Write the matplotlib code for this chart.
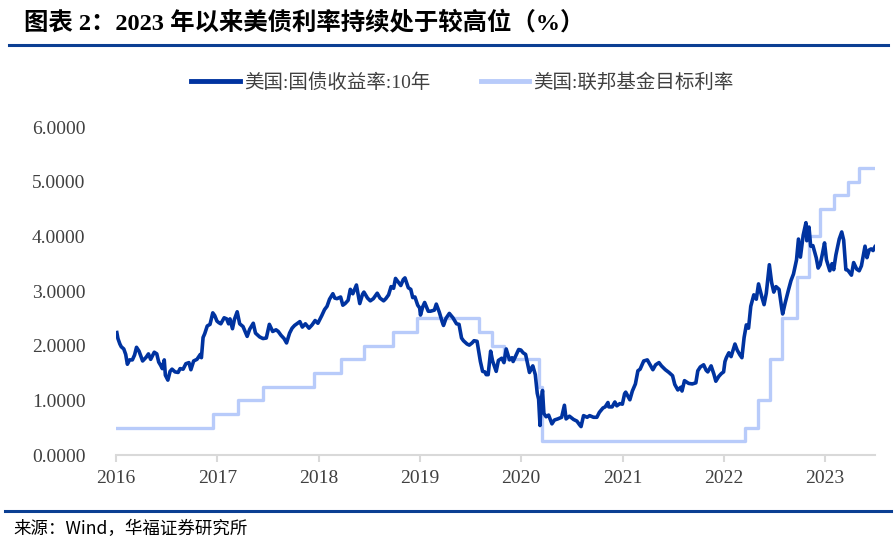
import matplotlib
matplotlib.use("Agg")
from matplotlib import pyplot as plt
import pandas as pd

# 美国:国债收益率:10年 (roughly 3 points per month)
yield_dates = [
    "2016-01-04", "2016-01-08", "2016-01-15", "2016-01-20", "2016-01-29", "2016-02-05", "2016-02-11", "2016-02-19",
    "2016-02-29", "2016-03-08", "2016-03-15", "2016-03-24", "2016-04-06", "2016-04-19", "2016-04-27", "2016-05-05",
    "2016-05-18", "2016-05-27", "2016-06-03", "2016-06-10", "2016-06-16", "2016-06-23", "2016-06-27", "2016-07-06",
    "2016-07-14", "2016-07-21", "2016-08-01", "2016-08-12", "2016-08-19", "2016-08-30", "2016-09-09", "2016-09-20",
    "2016-09-27", "2016-10-07", "2016-10-19", "2016-10-31", "2016-11-04", "2016-11-10", "2016-11-16", "2016-11-25",
    "2016-12-05", "2016-12-15", "2016-12-22", "2016-12-30",
    "2017-01-06", "2017-01-13", "2017-01-25", "2017-02-03", "2017-02-10", "2017-02-15", "2017-02-24", "2017-03-03",
    "2017-03-13", "2017-03-22", "2017-04-03", "2017-04-18", "2017-04-27", "2017-05-10", "2017-05-18", "2017-06-02",
    "2017-06-14", "2017-06-26", "2017-07-07", "2017-07-19", "2017-07-31", "2017-08-08", "2017-08-18", "2017-08-29",
    "2017-09-07", "2017-09-18", "2017-09-27", "2017-10-06", "2017-10-25", "2017-11-03", "2017-11-14", "2017-11-27",
    "2017-12-08", "2017-12-19", "2017-12-29",
    "2018-01-05", "2018-01-12", "2018-01-22", "2018-01-31", "2018-02-09", "2018-02-21", "2018-02-28", "2018-03-08",
    "2018-03-21", "2018-03-29", "2018-04-06", "2018-04-17", "2018-04-25", "2018-05-04", "2018-05-17", "2018-05-29",
    "2018-06-08", "2018-06-13", "2018-06-26", "2018-07-06", "2018-07-17", "2018-07-31", "2018-08-10", "2018-08-23",
    "2018-08-31", "2018-09-10", "2018-09-19", "2018-09-28", "2018-10-05", "2018-10-15", "2018-10-24", "2018-11-02",
    "2018-11-08", "2018-11-20", "2018-11-29", "2018-12-06", "2018-12-14", "2018-12-24", "2018-12-31",
    "2019-01-03", "2019-01-11", "2019-01-18", "2019-01-31", "2019-02-08", "2019-02-22", "2019-03-01", "2019-03-12",
    "2019-03-22", "2019-03-27", "2019-04-05", "2019-04-17", "2019-04-30", "2019-05-13", "2019-05-22", "2019-05-31",
    "2019-06-07", "2019-06-20", "2019-06-28", "2019-07-08", "2019-07-15", "2019-07-26", "2019-08-01", "2019-08-07",
    "2019-08-15", "2019-08-23", "2019-08-28", "2019-09-04", "2019-09-13", "2019-09-20", "2019-10-03", "2019-10-11",
    "2019-10-23", "2019-10-31", "2019-11-08", "2019-11-20", "2019-11-29", "2019-12-03", "2019-12-13", "2019-12-23",
    "2019-12-31",
    "2020-01-08", "2020-01-17", "2020-01-31", "2020-02-07", "2020-02-12", "2020-02-21", "2020-02-28", "2020-03-04",
    "2020-03-09", "2020-03-13", "2020-03-18", "2020-03-23", "2020-03-31", "2020-04-09", "2020-04-21", "2020-04-30",
    "2020-05-12", "2020-05-26", "2020-06-05", "2020-06-11", "2020-06-23", "2020-07-08", "2020-07-20", "2020-07-30",
    "2020-08-04", "2020-08-13", "2020-08-26", "2020-09-04", "2020-09-18", "2020-09-30", "2020-10-09", "2020-10-22",
    "2020-10-30", "2020-11-09", "2020-11-12", "2020-11-24", "2020-12-04", "2020-12-11", "2020-12-22", "2020-12-31",
    "2021-01-08", "2021-01-12", "2021-01-27", "2021-02-05", "2021-02-16", "2021-02-25", "2021-03-05", "2021-03-18",
    "2021-03-31", "2021-04-09", "2021-04-20", "2021-04-30", "2021-05-12", "2021-05-21", "2021-06-04", "2021-06-17",
    "2021-06-30", "2021-07-08", "2021-07-19", "2021-07-30", "2021-08-03", "2021-08-12", "2021-08-27", "2021-09-09",
    "2021-09-22", "2021-09-29", "2021-10-08", "2021-10-20", "2021-10-29", "2021-11-04", "2021-11-16", "2021-11-26",
    "2021-12-03", "2021-12-14", "2021-12-23", "2021-12-31",
    "2022-01-05", "2022-01-10", "2022-01-19", "2022-01-27", "2022-02-04", "2022-02-10", "2022-02-18", "2022-02-28",
    "2022-03-07", "2022-03-15", "2022-03-23", "2022-03-31", "2022-04-08", "2022-04-19", "2022-04-28", "2022-05-06",
    "2022-05-18", "2022-05-26", "2022-06-03", "2022-06-14", "2022-06-22", "2022-06-30", "2022-07-08", "2022-07-19",
    "2022-07-29", "2022-08-01", "2022-08-10", "2022-08-22", "2022-08-31", "2022-09-09", "2022-09-20", "2022-09-27",
    "2022-10-04", "2022-10-14", "2022-10-24", "2022-10-27", "2022-11-04", "2022-11-10", "2022-11-18", "2022-11-30",
    "2022-12-07", "2022-12-14", "2022-12-22", "2022-12-30",
    "2023-01-06", "2023-01-18", "2023-01-26", "2023-02-01", "2023-02-09", "2023-02-21", "2023-03-02", "2023-03-09",
    "2023-03-17", "2023-03-24", "2023-04-06", "2023-04-14", "2023-04-25", "2023-05-04", "2023-05-12", "2023-05-25",
    "2023-06-01", "2023-06-09", "2023-06-16", "2023-06-23", "2023-06-30",
]
yield_values = [
    2.24, 2.13, 2.03, 1.98, 1.94, 1.84, 1.66, 1.74,
    1.74, 1.83, 1.97, 1.90, 1.72, 1.79, 1.85, 1.75,
    1.88, 1.85, 1.70, 1.64, 1.58, 1.74, 1.46, 1.37,
    1.53, 1.57, 1.52, 1.51, 1.58, 1.57, 1.67, 1.69,
    1.56, 1.72, 1.75, 1.84, 1.78, 2.15, 2.22, 2.36,
    2.39, 2.60, 2.55, 2.45,
    2.42, 2.40, 2.51, 2.49, 2.40, 2.49, 2.31, 2.48,
    2.62, 2.40, 2.35, 2.17, 2.30, 2.41, 2.23, 2.16,
    2.13, 2.14, 2.39, 2.26, 2.29, 2.26, 2.19, 2.13,
    2.05, 2.23, 2.32, 2.37, 2.44, 2.34, 2.40, 2.32,
    2.38, 2.46, 2.41,
    2.48, 2.55, 2.66, 2.72, 2.85, 2.95, 2.87, 2.86,
    2.89, 2.74, 2.77, 2.83, 3.03, 2.95, 3.11, 2.77,
    2.94, 2.98, 2.87, 2.82, 2.86, 2.96, 2.87, 2.82,
    2.86, 2.93, 3.08, 3.05, 3.23, 3.16, 3.10, 3.21,
    3.24, 3.06, 3.03, 2.88, 2.89, 2.74, 2.69,
    2.56, 2.71, 2.79, 2.63, 2.63, 2.65, 2.76, 2.61,
    2.44, 2.37, 2.50, 2.59, 2.51, 2.40, 2.39, 2.14,
    2.09, 2.03, 2.01, 2.05, 2.09, 2.08, 1.90, 1.71,
    1.53, 1.52, 1.47, 1.47, 1.90, 1.72, 1.53, 1.73,
    1.77, 1.69, 1.94, 1.74, 1.78, 1.71, 1.82, 1.93,
    1.92,
    1.87, 1.84, 1.51, 1.59, 1.63, 1.47, 1.13, 1.02,
    0.54, 0.98, 1.18, 0.76, 0.70, 0.73, 0.57, 0.64,
    0.66, 0.69, 0.91, 0.66, 0.71, 0.65, 0.62, 0.55,
    0.52, 0.72, 0.69, 0.72, 0.69, 0.69, 0.78, 0.86,
    0.88, 0.96, 0.88, 0.88, 0.97, 0.90, 0.94, 0.93,
    1.12, 1.15, 1.01, 1.17, 1.30, 1.54, 1.57, 1.72,
    1.74, 1.66, 1.56, 1.65, 1.69, 1.63, 1.56, 1.51,
    1.45, 1.29, 1.19, 1.24, 1.17, 1.36, 1.31, 1.30,
    1.32, 1.54, 1.61, 1.65, 1.55, 1.52, 1.63, 1.48,
    1.35, 1.44, 1.49, 1.52,
    1.71, 1.78, 1.87, 1.80, 1.93, 2.03, 1.92, 1.83,
    1.78, 2.15, 2.38, 2.32, 2.72, 2.93, 2.85, 3.13,
    2.89, 2.75, 2.96, 3.48, 3.16, 2.98, 3.08, 3.03,
    2.67, 2.58, 2.78, 3.02, 3.19, 3.31, 3.57, 3.95,
    3.62, 4.02, 4.25, 3.92, 4.17, 3.82, 3.83, 3.61,
    3.42, 3.48, 3.67, 3.88,
    3.57, 3.37, 3.50, 3.39, 3.66, 3.95, 4.08, 3.93,
    3.39, 3.38, 3.29, 3.52, 3.40, 3.37, 3.46, 3.82,
    3.61, 3.75, 3.77, 3.74, 3.81,
]

# 美国:联邦基金目标利率 (step changes)
fed_dates = [
    "2016-01-01", "2016-12-15", "2017-03-16", "2017-06-15", "2017-12-14", "2018-03-22", "2018-06-14",
    "2018-09-27", "2018-12-20", "2019-08-01", "2019-09-19", "2019-10-31", "2020-03-04", "2020-03-16",
    "2022-03-17", "2022-05-05", "2022-06-16", "2022-07-28", "2022-09-22", "2022-11-03", "2022-12-15",
    "2023-02-02", "2023-03-23", "2023-05-04", "2023-06-30",
]
fed_values = [
    0.50, 0.75, 1.00, 1.25, 1.50, 1.75, 2.00,
    2.25, 2.50, 2.25, 2.00, 1.75, 1.25, 0.25,
    0.50, 1.00, 1.75, 2.50, 3.25, 4.00, 4.50,
    4.75, 5.00, 5.25, 5.25,
]

years = list(range(2016, 2024))
yticks = [0, 1, 2, 3, 4, 5, 6]

series_names = ["美国:国债收益率:10年", "美国:联邦基金目标利率"]
title_text = "图表 2：2023 年以来美债利率持续处于较高位（%）"
source_text = "来源：Wind，华福证券研究所"

serif = ["Liberation Serif", "Noto Sans CJK SC"]
dark_blue = "#0033a0"
light_blue = "#b8cbfa"
line_blue = "#0b3f93"
text_grey = "#404040"

fig = plt.figure(figsize=(8.96, 5.44), dpi=100)
ax = fig.add_axes([116 / 896, 1 - 455 / 544, (875 - 116) / 896, (455 - 127) / 544])

yd = pd.to_datetime(yield_dates)
fd = pd.to_datetime(fed_dates)

l2, = ax.step(fd, fed_values, where="post", color=light_blue, lw=2.4, zorder=2)
l1, = ax.plot(yd, yield_values, color=dark_blue, lw=2.6, zorder=3)

ax.set_xlim(pd.Timestamp("2016-01-01"), pd.Timestamp("2023-06-30"))
ax.set_ylim(0, 6)
ax.set_xticks([pd.Timestamp(f"{y}-01-01") for y in years])
ax.set_xticklabels([str(y) for y in years])
ax.set_yticks(yticks)
ax.set_yticklabels([f"{v:.4f}" for v in yticks])

for s in ["top", "right", "left"]:
    ax.spines[s].set_visible(False)
ax.spines["bottom"].set_color("#d9d9d9")
ax.spines["bottom"].set_linewidth(1.5)
ax.tick_params(axis="x", direction="out", length=5, width=1.5, color="#d9d9d9", pad=6)
ax.tick_params(axis="y", length=0, pad=22)
for lab in ax.get_xticklabels() + ax.get_yticklabels():
    lab.set_family(serif)
    lab.set_fontsize(14)
    lab.set_color(text_grey)

leg = fig.legend([l1, l2], series_names, loc="center", bbox_to_anchor=(0.516, 1 - 83 / 544),
                 ncol=2, frameon=False, handlelength=2.5, columnspacing=2.6, handletextpad=0.2,
                 prop={"family": serif, "size": 14})
for t in leg.get_texts():
    t.set_color(text_grey)
leg.get_lines()[0].set_linewidth(3.5)
leg.get_lines()[1].set_linewidth(3.5)

# title and separators
fig.text(24 / 896, 1 - 22 / 544, title_text, ha="left", va="center", fontsize=17.6,
         fontweight="bold", family=serif, color="black")
fig.add_artist(plt.Line2D([9 / 896, 888 / 896], [1 - 44.5 / 544, 1 - 44.5 / 544], color=line_blue, lw=2.2))
fig.add_artist(plt.Line2D([5 / 896, 891 / 896], [1 - 511 / 544, 1 - 511 / 544], color=line_blue, lw=2.2))
fig.text(13 / 896, 1 - 529 / 544, source_text, ha="left", va="center", fontsize=12.6,
         family=["Noto Sans CJK SC", "DejaVu Sans"], color="black")

fig.savefig("out.png", dpi=100)
